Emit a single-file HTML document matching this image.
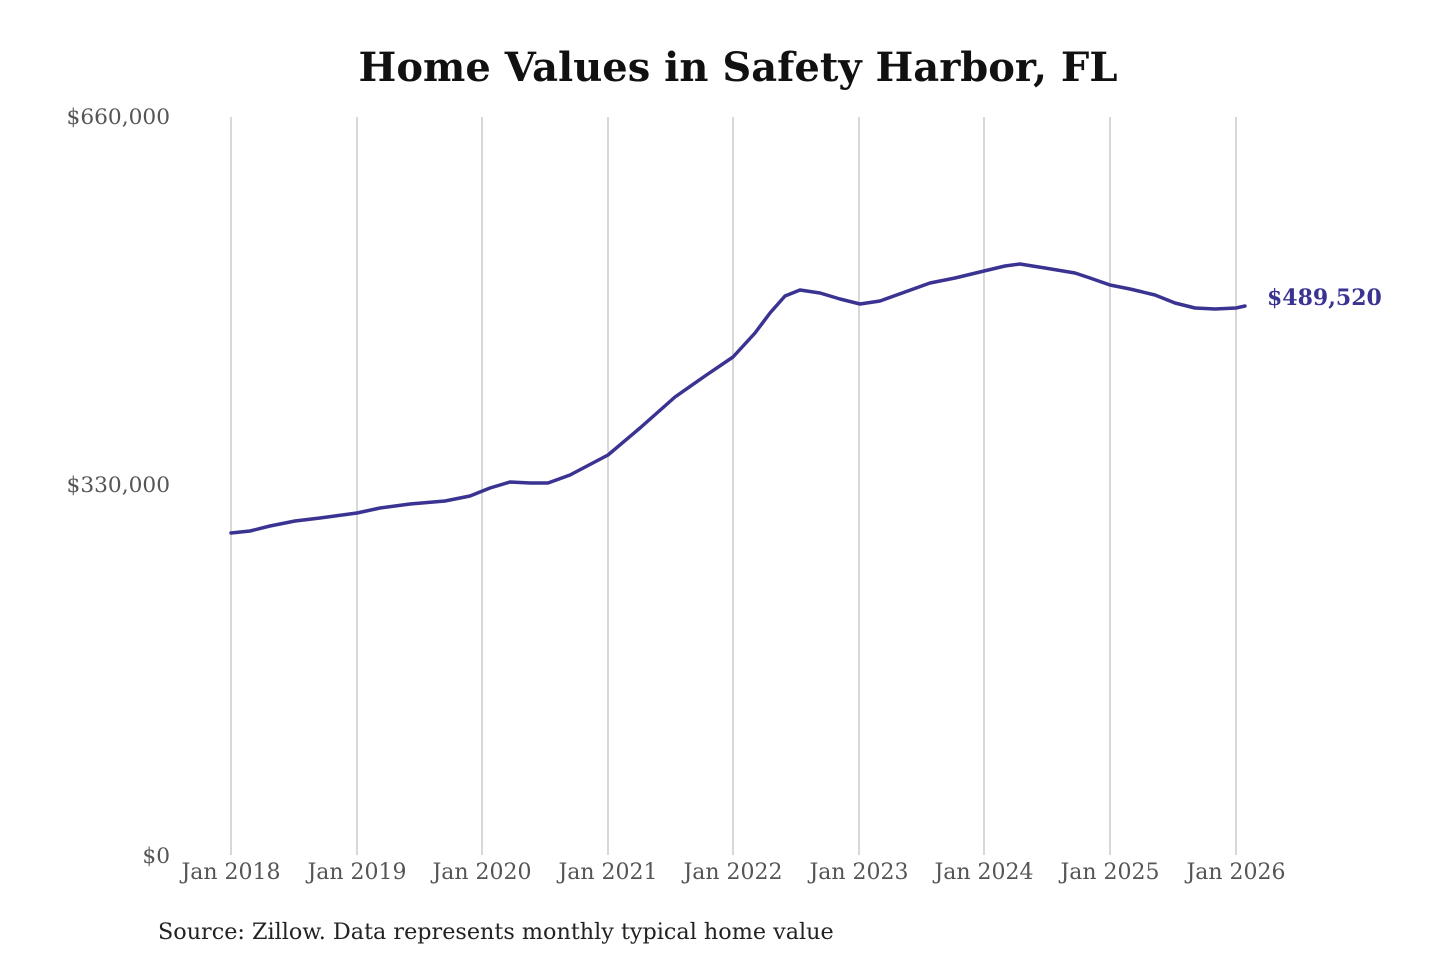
<!DOCTYPE html>
<html><head><meta charset="utf-8"><style>
body{margin:0;background:#fff;}
svg{display:block;font-family:"DejaVu Serif","Liberation Serif",serif;}
</style></head><body>
<svg width="1440" height="960" viewBox="0 0 1440 960">
<text x="738" y="81" text-anchor="middle" font-size="40" font-weight="bold" fill="#111">Home Values in Safety Harbor, FL</text>
<g stroke="#c4c4c4" stroke-width="1.3">
<line x1="231" y1="117" x2="231" y2="855"/><line x1="357" y1="117" x2="357" y2="855"/>
<line x1="482" y1="117" x2="482" y2="855"/><line x1="608" y1="117" x2="608" y2="855"/>
<line x1="733" y1="117" x2="733" y2="855"/><line x1="859" y1="117" x2="859" y2="855"/>
<line x1="984" y1="117" x2="984" y2="855"/><line x1="1110" y1="117" x2="1110" y2="855"/>
<line x1="1236" y1="117" x2="1236" y2="855"/>
</g>
<g font-size="21.7" fill="#555" text-anchor="end">
<text x="170" y="124">$660,000</text>
<text x="170" y="492">$330,000</text>
<text x="170" y="863">$0</text>
</g>
<g font-size="22" fill="#555" text-anchor="middle">
<text x="231" y="879">Jan 2018</text><text x="357" y="879">Jan 2019</text>
<text x="482" y="879">Jan 2020</text><text x="608" y="879">Jan 2021</text>
<text x="733" y="879">Jan 2022</text><text x="859" y="879">Jan 2023</text>
<text x="984" y="879">Jan 2024</text><text x="1110" y="879">Jan 2025</text>
<text x="1236" y="879">Jan 2026</text>
</g>
<polyline fill="none" stroke="#3a3391" stroke-width="3.5" stroke-linejoin="round" stroke-linecap="round"
points="231,533 250,531 270,526 295,521 320,518 357,513 380,508 410,504 445,501 470,496 490,488 510,482 530,483 548,483 570,475 608,455 640,428 675,397 705,376 733,357 755,333 770,313 785,296 800,290 820,293 840,299 860,304 880,301 905,292 930,283 955,278 984,271 1005,266 1020,264 1045,268 1075,273 1090,278 1110,285 1130,289 1155,295 1175,303 1195,308 1215,309 1236,308 1245,306"/>
<text x="1267" y="305" font-size="22" font-weight="bold" fill="#3a3391">$489,520</text>
<text x="158" y="939" font-size="22.3" fill="#222">Source: Zillow. Data represents monthly typical home value</text>
</svg>
</body></html>
